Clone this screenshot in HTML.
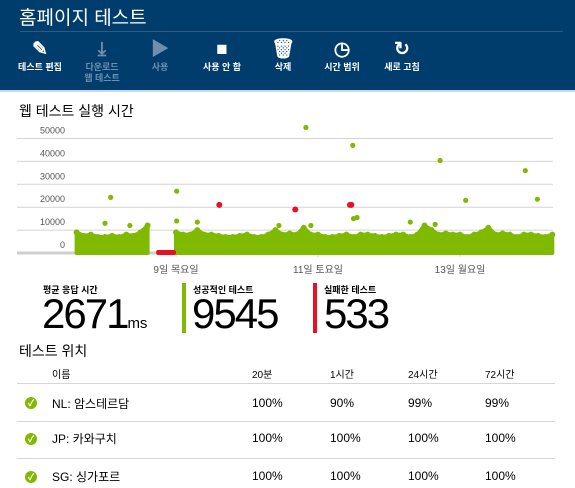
<!DOCTYPE html>
<html><head><meta charset="utf-8">
<style>
body{margin:0;width:575px;height:488px;overflow:hidden;background:#fff;font-family:"Liberation Sans","Noto Sans CJK KR",sans-serif;position:relative}
.hdr{position:absolute;left:0;top:0;width:575px;height:90px;background:#003c6c;border-bottom:2px solid #c9dbea}
.t{position:absolute;white-space:nowrap}
.btn{position:absolute;top:38px;text-align:center;color:#fff;font-size:9px;font-weight:bold;line-height:11px}
.btn .ic{height:24px;font-size:19px;line-height:24px}
.dis{color:#6f8fae}
.lbl{font-size:9px;font-weight:bold;color:#000}
.big{font-size:42px;color:#000;letter-spacing:-2px}
.cell{position:absolute;font-size:12px;color:#000}
.hc{position:absolute;font-size:10px;color:#000;top:366px}
.ok{position:absolute;left:25px;width:12px;height:12px;border-radius:50%;background:#7fba00;color:#fff;font-size:9px;line-height:12px;text-align:center;font-weight:bold}
.rl{position:absolute;left:17px;width:538px;height:1px;background:#d6d6d6}
</style></head><body>
<div class="hdr">
 <div class="t" style="left:19px;top:3px;color:#fff;font-size:19px">홈페이지 테스트</div>
 <div class="t" style="left:20px;top:31px;width:543px;height:1px;background:#2e5a85"></div>
 <div class="btn" style="left:12px;width:56px"><div class="ic">✎</div>테스트 편집</div>
 <div class="btn dis" style="left:72px;width:60px"><div class="ic">⤓</div>다운로드<br>웹 테스트</div>
 <div class="btn dis" style="left:140px;width:40px"><div class="ic">▶</div>사용</div>
 <div class="btn" style="left:192px;width:60px"><div class="ic">■</div>사용 안 함</div>
 <div class="btn" style="left:262px;width:42px"><div class="ic">🗑</div>삭제</div>
 <div class="btn" style="left:314px;width:56px"><div class="ic">◷</div>시간 범위</div>
 <div class="btn" style="left:374px;width:56px"><div class="ic">↻</div>새로 고침</div>
</div>
<div class="t" style="left:19px;top:101px;font-size:14px;color:#000">웹 테스트 실행 시간</div>
<svg id="chart" style="position:absolute;left:0;top:0" width="575" height="290"></svg>
<div class="t lbl" style="left:43px;top:283px">평균 응답 시간</div>
<div class="t big" style="left:42px;top:290px">2671<span style="font-size:15px;letter-spacing:0">ms</span></div>
<div class="t" style="left:182px;top:283px;width:4px;height:50px;background:#7fba00"></div>
<div class="t lbl" style="left:193px;top:283px">성공적인 테스트</div>
<div class="t big" style="left:192px;top:290px">9545</div>
<div class="t" style="left:313px;top:283px;width:4px;height:50px;background:#e81123"></div>
<div class="t lbl" style="left:324px;top:283px">실패한 테스트</div>
<div class="t big" style="left:324px;top:290px">533</div>
<div class="t" style="left:19px;top:341px;font-size:14px">테스트 위치</div>
<div class="hc" style="left:52px">이름</div>
<div class="hc" style="left:252px">20분</div>
<div class="hc" style="left:330px">1시간</div>
<div class="hc" style="left:408px">24시간</div>
<div class="hc" style="left:485px">72시간</div>
<div class="rl" style="top:383px"></div>
<div class="rl" style="top:421px"></div>
<div class="rl" style="top:458px"></div>
<div>
<div class="ok" style="top:397px">✓</div>
<div class="cell" style="left:52px;top:395px">NL: 암스테르담</div><div class="cell" style="left:252px;top:396px">100%</div><div class="cell" style="left:330px;top:396px">90%</div><div class="cell" style="left:408px;top:396px">99%</div><div class="cell" style="left:485px;top:396px">99%</div></div>
<div>
<div class="ok" style="top:433px">✓</div>
<div class="cell" style="left:52px;top:430px">JP: 카와구치</div><div class="cell" style="left:252px;top:431px">100%</div><div class="cell" style="left:330px;top:431px">100%</div><div class="cell" style="left:408px;top:431px">100%</div><div class="cell" style="left:485px;top:431px">100%</div></div>
<div>
<div class="ok" style="top:471px">✓</div>
<div class="cell" style="left:52px;top:468px">SG: 싱가포르</div><div class="cell" style="left:252px;top:469px">100%</div><div class="cell" style="left:330px;top:469px">100%</div><div class="cell" style="left:408px;top:469px">100%</div><div class="cell" style="left:485px;top:469px">100%</div></div>
<script>
const yTicks=[0,10000,20000,30000,40000,50000];
const xTickDays=[9,11,13];
const xTickLabels=["9일 목요일","11일 토요일","13일 월요일"];
const band1Start=7.6, band2Start=9.0, bandStep=0.1;
const band1Top=[9000,7500,8000,7000,7000,7500,7000,8000,7500,9000,12000];
const band2Top=[9000,8000,8000,10000,8000,8000,7500,7000,7000,7500,8000,7000,7000,8000,10000,8000,8500,8000,11000,8000,8000,7000,7000,7500,8000,7000,8000,8000,7500,7000,7500,8000,8000,7000,8000,12000,10000,8000,8500,8000,8000,7000,8000,9000,11000,8000,8500,8000,7000,8000,8000,7500,7000,8000];
const okDays=[8.08,9.01,10.83,11.49,12.72,13.08,13.92,14.09,11.5,11.55,9.01,8.0,8.35,9.3,10.45,10.9,12.3,12.65];
const okVals=[24300,27000,54800,47000,40400,23000,36000,23500,15000,15500,14000,13000,12000,13500,12000,12000,13500,12500];
const failDays=[9.61,10.68,11.45,11.47];
const failVals=[21000,19000,21000,21000];
const failBandStart=8.72, failBandEnd=9.0;
const svg=document.getElementById('chart'),NS='http://www.w3.org/2000/svg';
const X=d=>176+(d-9)*71, Y=v=>253-v*0.00229;
function mk(t,a){const e=document.createElementNS(NS,t);for(const k in a)e.setAttribute(k,a[k]);svg.appendChild(e);return e;}
yTicks.forEach(v=>{const l=mk('line',{x1:17,x2:553,y1:Y(v),y2:Y(v),stroke:v?'#d4d4d4':'#cfcfcf','stroke-width':v?1:3});

const t=mk('text',{x:65,y:Y(v)-5,'text-anchor':'end','font-size':9,fill:'#555','font-family':'Liberation Sans'});t.textContent=v;
});
xTickDays.forEach((d,i)=>{const l=mk('line',{x1:X(d),x2:X(d),y1:253,y2:257,stroke:'#ccc'});

const t=mk('text',{x:X(d),y:273,'text-anchor':'middle','font-size':10,fill:'#555','font-family':'Liberation Sans, Noto Sans CJK KR, sans-serif'});t.textContent=xTickLabels[i];
});
function band(start,arr,name){let p=[[X(start),Y(0)]];arr.forEach((v,i)=>p.push([X(start+i*bandStep),Y(v)]));p.push([X(start+(arr.length-1)*bandStep),Y(0)]);
const e=mk('polygon',{points:p.map(q=>q.join(',')).join(' '),fill:'#7fba00',stroke:'#7fba00','stroke-width':4,'stroke-linejoin':'round'});

arr.forEach((v,i)=>{const c=mk('circle',{cx:X(start+i*bandStep),cy:Y(v),r:3,fill:'#7fba00'});});}
band(band1Start,band1Top,'success-band-1');band(band2Start,band2Top,'success-band-2');
const fb=mk('rect',{x:X(failBandStart),y:Y(0)-3,width:X(failBandEnd)-X(failBandStart),height:5,rx:2,fill:'#e81123'});

okDays.forEach((d,i)=>{const c=mk('circle',{cx:X(d),cy:Y(okVals[i]),r:2.6,fill:'#7fba00'});});
failDays.forEach((d,i)=>{const c=mk('circle',{cx:X(d),cy:Y(failVals[i]),r:3,fill:'#e81123'});});
</script>
</body></html>
